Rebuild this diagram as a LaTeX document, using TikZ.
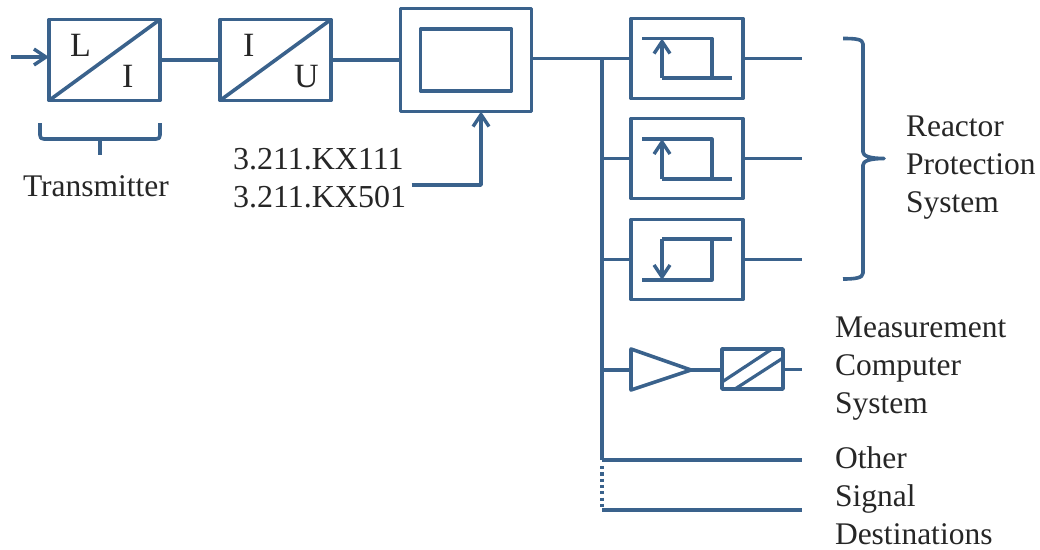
\documentclass[tikz,border=0pt]{standalone}
\usepackage{fontspec}
\setmainfont{Liberation Serif}
\usetikzlibrary{arrows.meta}
\definecolor{ink}{HTML}{3A628C}
\tikzset{
  line/.style={draw=ink,line width=3.6pt,line join=round},
  dia/.style={line,shape=rectangle,inner sep=0pt,outer sep=0pt},
  thin line/.style={line,line width=3.2pt},
  barb/.style={-{Straight Barb[length=12pt,width=16pt,line width=3.4pt]}},
  lab/.style={anchor=base west,inner sep=0pt,outer sep=0pt,text=black!85,font=\fontsize{31.5}{31.5}\selectfont},
  num/.style={lab,font=\fontsize{32}{32}\selectfont},
  big/.style={lab,font=\fontsize{34}{34}\selectfont},
}
\begin{document}
\begin{tikzpicture}[x=1pt,y=-1pt]
\useasboundingbox (0,0) rectangle (1040,549);
% converters
\node[dia,minimum width=111pt,minimum height=81pt] (conv1) at (104.5,60) {};
\node[dia,minimum width=111pt,minimum height=81pt] (conv2) at (275.5,60) {};
\draw[line] (conv1.south west) -- (conv1.north east);
\draw[line] (conv2.south west) -- (conv2.north east);
% indicator
\node[dia,minimum width=131pt,minimum height=103pt] (disp) at (466,60) {};
\node[dia,minimum width=91pt,minimum height=62pt] (dispin) at (466,60) {};
% limit boxes
\node[dia,minimum width=112pt,minimum height=80pt] (lim1) at (687,58.5) {};
\node[dia,minimum width=112pt,minimum height=80pt] (lim2) at (687,158.5) {};
\node[dia,minimum width=112pt,minimum height=80pt] (lim3) at (687,259.5) {};
% hysteresis symbols
\draw[thin line] (642,38.5) -- (712,38.5) -- (712,78);
\draw[thin line] (732,78) -- (662,78);
\draw[thin line,barb] (662,78) -- (662,38.5);
\draw[thin line] (642,139) -- (712,139) -- (712,179);
\draw[thin line] (732,179) -- (662,179);
\draw[thin line,barb] (662,179) -- (662,139);
\draw[thin line] (732,239) -- (662,239);
\draw[thin line] (712,239) -- (712,280) -- (642,280);
\draw[thin line,barb] (662,239) -- (662,280);
% amplifier and converter
\node[dia,minimum width=61pt,minimum height=40pt] (adc) at (752.5,369) {};
\coordinate (ampT) at (631,349);
\coordinate (ampB) at (631,390);
\coordinate (ampL) at (631,370);
\coordinate (ampR) at (691,370);
\draw[line] (ampT) -- (ampR) -- (ampB) -- cycle;
\draw[thin line] (722,382) -- (772,349);
\draw[thin line] (735,389) -- (783,358);
% input
\coordinate (in) at (11,57);
\coordinate (inEnd) at (49,57);
\draw[line,barb] (in) -- (inEnd);
% main signal path
\draw[line] (conv1.east) -- (conv2.west);
\draw[line] (conv2.east) -- (disp.west);
\coordinate (busTop) at (602,58.5);
\coordinate (busEnd) at (602,460);
\coordinate (busLow) at (602,510);
\coordinate (b2) at (602,158.5);
\coordinate (b3) at (602,259.5);
\coordinate (b4) at (602,370);
\draw[line] (disp.east |- busTop) -- (lim1.west);
\draw[line] (busTop) -- (busEnd);
\draw[line] (b2) -- (lim2.west);
\draw[line] (b3) -- (lim3.west);
\draw[line] (b4) -- (ampL);
\draw[line] (ampR) -- (adc.west |- ampR);
\coordinate (o1) at (802,58.5);
\coordinate (o2) at (802,158.5);
\coordinate (o3) at (802,259.5);
\coordinate (o4) at (802,369.5);
\coordinate (o5) at (802,460);
\coordinate (o6) at (802,510);
\draw[line] (lim1.east) -- (o1);
\draw[line] (lim2.east) -- (o2);
\draw[line] (lim3.east) -- (o3);
\draw[line] (adc.east |- o4) -- (o4);
\draw[line] (busEnd) -- (o5);
\draw[line] (busLow) -- (o6);
\draw[draw=ink,line width=3.6pt,dash pattern=on 3.2pt off 3.1pt] (busEnd) ++(0,6) -- (busLow);
% set-point input
\coordinate (sp) at (411.5,185);
\draw[line,barb] (sp) -| (disp.south -| 481,0);
% braces
\draw[line] (40,123) -- (40,135) .. controls (40,138) and (41,139) .. (44,139) -- (156,139)
   .. controls (159,139) and (160,138) .. (160,135) -- (160,123);
\draw[line] (100,139) -- (100,155);
\coordinate (bigR) at (884,158.5);
\draw[line] (843,38.5) .. controls (855,38.5) and (863,39) .. (863,44) -- (863,152)
   .. controls (863,156) and (870,158.5) .. (bigR)
   .. controls (870,158.5) and (863,161) .. (863,165) -- (863,273)
   .. controls (863,278) and (855,279) .. (843,279);
% labels
\node[big] (tL) at (70,56) {L};
\node[big] (tI) at (122,87) {I};
\node[big] (tI2) at (243,56) {I};
\node[big] (tU) at (294,87) {U};
\node[lab] (tTr) at (23,196) {Transmitter};
\node[num] (tK1) at (233,169) {3.211.KX111};
\node[num] (tK2) at (233,207) {3.211.KX501};
\node[lab] (tR1) at (906,136) {Reactor};
\node[lab] (tR2) at (906,174) {Protection};
\node[lab] (tR3) at (906,212) {System};
\node[lab] (tM1) at (835,337) {Measurement};
\node[lab] (tM2) at (835,375) {Computer};
\node[lab] (tM3) at (835,413) {System};
\node[lab] (tO1) at (835,468) {Other};
\node[lab] (tO2) at (835,506) {Signal};
\node[lab] (tO3) at (835,544) {Destinations};
\end{tikzpicture}
\end{document}
